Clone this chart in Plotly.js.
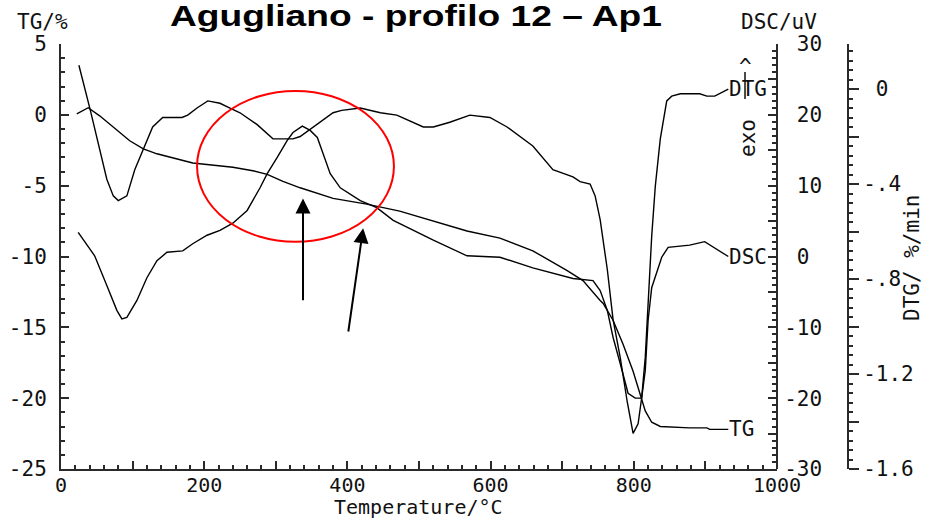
<!DOCTYPE html>
<html>
<head>
<meta charset="utf-8">
<script src="https://cdn.plot.ly/plotly-3.0.1.min.js"></script>
<style>html,body{margin:0;padding:0;background:#fff;}</style>
</head>
<body>
<div id="chart" style="width:925px;height:518px;"></div>
<script>
// ---- data ----
const tgT = [22,38,54,68,82,96,115,134,184,240,268,288,310,334,380,427,473,520,567,613,659,707,729,753,757,771,785,799,809,816,825,837,878,902,906,932];
const tgV = [0.07,0.5,-0.07,-0.64,-1.27,-1.83,-2.4,-2.75,-3.4,-3.7,-3.95,-4.2,-4.7,-5.15,-5.9,-6.3,-6.8,-7.5,-8.2,-8.7,-9.6,-11.0,-11.7,-13.1,-13.3,-14.5,-16.2,-18.1,-19.7,-20.9,-21.7,-22.0,-22.1,-22.1,-22.2,-22.2];

const dscT = [24,47,64,78,85,92,106,120,134,148,170,184,204,222,240,260,278,288,302,316,324,337,348,358,376,390,418,441,464,520,567,595,613,659,715,743,753,763,771,781,792,802,811,816,820,825,832,839,848,878,899,915,932];
const dscV = [3.4,0.1,-4.1,-7.6,-8.8,-8.6,-6.2,-3.0,-0.6,0.6,0.8,1.8,3.0,3.7,4.7,6.5,9.7,11.7,14.0,16.4,17.5,18.4,17.8,16.8,11.7,9.7,7.9,6.9,5.1,2.3,0.1,0,-0.1,-1.6,-3.1,-3.4,-4.8,-7.6,-11.4,-15.1,-19.3,-20.0,-20.0,-16.1,-9.0,-4.4,-2.4,-0.1,1.3,1.6,2.1,1.1,0];

const dtgT = [25,41,64,73,80,92,103,115,128,142,155,169,177,190,205,222,236,250,274,288,296,316,324,334,348,362,380,392,418,446,469,506,520,543,571,599,623,659,687,715,725,739,746,753,763,771,781,791,799,806,811,816,820,825,830,837,846,853,865,892,902,913,932];
const dtgV = [0.10,-0.09,-0.38,-0.45,-0.47,-0.45,-0.34,-0.25,-0.16,-0.12,-0.12,-0.12,-0.11,-0.08,-0.05,-0.06,-0.08,-0.10,-0.15,-0.19,-0.21,-0.21,-0.21,-0.20,-0.17,-0.14,-0.10,-0.09,-0.08,-0.10,-0.11,-0.16,-0.16,-0.14,-0.11,-0.12,-0.16,-0.24,-0.34,-0.37,-0.39,-0.40,-0.45,-0.55,-0.76,-0.97,-1.13,-1.32,-1.45,-1.41,-1.30,-1.13,-0.90,-0.62,-0.41,-0.21,-0.05,-0.03,-0.02,-0.02,-0.03,-0.03,0.00];

const xTickVals = [0,100,200,300,400,500,600,700,800,900,1000];
const xTickText = ['0','','200','','400','','600','','800','','1000'];
const tgTickVals = [-25,-20,-15,-10,-5,0,5];
const tgTickText = ['-25','-20','-15','-10','-5','0','5'];
const dscTickVals = [-30,-25,-20,-15,-10,-5,0,5,10,15,20,25,30];
const dscTickText = ['-30','','-20','','-10','','\u00a00','','\u00a010','','\u00a020','','\u00a030'];
const dtgTickVals = [0,-0.2,-0.4,-0.6,-0.8,-1.0,-1.2,-1.4,-1.6];
const dtgTickText = ['\u00a00','','-.4','','-.8','','-1.2','','-1.6'];

const titleText = 'Agugliano - profilo 12 \u2013 Ap1';

// ---- layout helpers ----
const W = 925, H = 518;
const mL = 61, mR = 77, mT = 44, mB = 49;
const plotW = W - mL - mR;          // 787
const xEnd = 716 / plotW;           // x-axis domain end
const MONO = 'DejaVu Sans Mono, monospace';
const FS = 21;
const AX = '#2a2a2a';
const px = p => (p - mL) / plotW;
const py = p => (H - mB - p) / (H - mT - mB);

const lineStyle = {color:'#000', width:1.4};
const traces = [
  {x:tgT, y:tgV, type:'scatter', mode:'lines', line:lineStyle, yaxis:'y', name:'TG', hoverinfo:'skip'},
  {x:dscT, y:dscV, type:'scatter', mode:'lines', line:lineStyle, yaxis:'y2', name:'DSC', hoverinfo:'skip'},
  {x:dtgT, y:dtgV, type:'scatter', mode:'lines', line:lineStyle, yaxis:'y3', name:'DTG', hoverinfo:'skip'}
];

const tickFont = {family:MONO, size:FS, color:'#111'};
const txtFont = {family:MONO, size:FS, color:'#111'};

const layout = {
  width:W, height:H,
  margin:{l:mL, r:mR, t:mT, b:mB, pad:0},
  paper_bgcolor:'#fff', plot_bgcolor:'#fff',
  showlegend:false,
  title:{text:titleText, font:{family:'Liberation Sans, Arial, sans-serif', size:30, color:'#000', weight:'bold'},
         xref:'container', x:416/W, xanchor:'center', yref:'container', y:1-15/H, yanchor:'middle'},
  xaxis:{domain:[0,xEnd], range:[0,1000], showgrid:false, zeroline:false,
         showline:true, linecolor:AX, linewidth:2,
         tickmode:'array', tickvals:xTickVals, ticktext:xTickText,
         ticks:'inside', ticklen:8, tickwidth:2, tickcolor:AX,
         tickfont:{family:MONO, size:20, color:'#111'}, ticklabelstandoff:-3,
         minor:{dtick:20, tick0:0, ticks:'inside', ticklen:4, tickwidth:2, tickcolor:AX, showgrid:false}},
  yaxis:{range:[-25,5], showgrid:false, zeroline:false,
         showline:true, linecolor:AX, linewidth:2,
         tickmode:'array', tickvals:tgTickVals, ticktext:tgTickText,
         ticks:'inside', ticklen:8, tickwidth:2, tickcolor:AX, tickfont:tickFont, ticklabelstandoff:8,
         minor:{dtick:1, tick0:0, ticks:'inside', ticklen:4, tickwidth:2, tickcolor:AX, showgrid:false}},
  yaxis2:{range:[-30,30], overlaying:'y', side:'right', anchor:'free', position:xEnd,
         showgrid:false, zeroline:false, showline:true, linecolor:AX, linewidth:2,
         tickmode:'array', tickvals:dscTickVals, ticktext:dscTickText,
         ticks:'inside', ticklen:8, tickwidth:2, tickcolor:AX, tickfont:tickFont, ticklabelstandoff:2,
         minor:{dtick:1, tick0:0, ticks:'inside', ticklen:4, tickwidth:2, tickcolor:AX, showgrid:false}},
  yaxis3:{range:[-1.6,0.1895], overlaying:'y', side:'right', anchor:'free', position:1,
         showgrid:false, zeroline:false, showline:true, linecolor:AX, linewidth:2,
         tickmode:'array', tickvals:dtgTickVals, ticktext:dtgTickText,
         ticks:'outside', ticklen:10, tickwidth:2, tickcolor:AX, tickfont:tickFont, ticklabelstandoff:0,
         minor:{dtick:0.04, tick0:0, ticks:'outside', ticklen:4, tickwidth:2, tickcolor:AX, showgrid:false}},
  shapes:[
    {type:'circle', xref:'x', yref:'y', x0:190, x1:465, y0:-8.96, y1:1.69,
     line:{color:'#ff0000', width:2}, fillcolor:'rgba(0,0,0,0)'},
    {type:'line', xref:'paper', yref:'paper', x0:px(745), x1:px(745), y0:py(72), y1:py(99),
     line:{color:'#111', width:1.5}}
  ],
  annotations:[
    // x axis title
    {x:px(418), y:py(507), xref:'paper', yref:'paper', text:'Temperature/\u00b0C', showarrow:false,
     xanchor:'center', yanchor:'middle', font:{family:MONO, size:20, color:'#111'}, borderpad:0},
    // arrows pointing at the TG curve
    {x:338, y:-5.9, xref:'x', yref:'y', ax:338, ay:-13.2, axref:'x', ayref:'y', text:'',
     showarrow:true, arrowhead:2, arrowsize:1.5, arrowwidth:2, arrowcolor:'#000'},
    {x:422, y:-8.0, xref:'x', yref:'y', ax:401, ay:-15.4, axref:'x', ayref:'y', text:'',
     showarrow:true, arrowhead:2, arrowsize:1.5, arrowwidth:2, arrowcolor:'#000'},
    // curve labels
    {x:dtgT[dtgT.length-1], y:dtgV[dtgV.length-1], xref:'x', yref:'y3', text:'DTG', showarrow:false,
     xanchor:'left', yanchor:'middle', font:txtFont, borderpad:0},
    {x:dscT[dscT.length-1], y:dscV[dscV.length-1], xref:'x', yref:'y2', text:'DSC', showarrow:false,
     xanchor:'left', yanchor:'middle', font:txtFont, borderpad:0},
    {x:tgT[tgT.length-1], y:tgV[tgV.length-1], xref:'x', yref:'y', text:'TG', showarrow:false,
     xanchor:'left', yanchor:'middle', font:txtFont, borderpad:0},
    // axis titles
    {x:px(42), y:py(22), xref:'paper', yref:'paper', text:'TG/%', showarrow:false,
     xanchor:'center', yanchor:'middle', font:txtFont},
    {x:px(779), y:py(22), xref:'paper', yref:'paper', text:'DSC/uV', showarrow:false,
     xanchor:'center', yanchor:'middle', font:txtFont},
    {x:px(912), y:py(258), xref:'paper', yref:'paper', text:'DTG/ %/min', showarrow:false, textangle:-90,
     xanchor:'center', yanchor:'middle', font:txtFont},
    // exo marker
    {x:px(745), y:py(67), xref:'paper', yref:'paper', text:'^', showarrow:false,
     xanchor:'center', yanchor:'middle', font:txtFont},
    {x:px(748), y:py(138), xref:'paper', yref:'paper', text:'exo', showarrow:false, textangle:-90,
     xanchor:'center', yanchor:'middle', font:txtFont}
  ]
};

Plotly.newPlot('chart', traces, layout, {displayModeBar:false, staticPlot:true}).then(function(){
  // the reference title is drawn horizontally stretched; widen the real text to match
  var t = document.querySelector('.gtitle');
  if (t) { t.setAttribute('textLength', '492'); t.setAttribute('lengthAdjust', 'spacingAndGlyphs'); }
});
</script>
</body>
</html>
